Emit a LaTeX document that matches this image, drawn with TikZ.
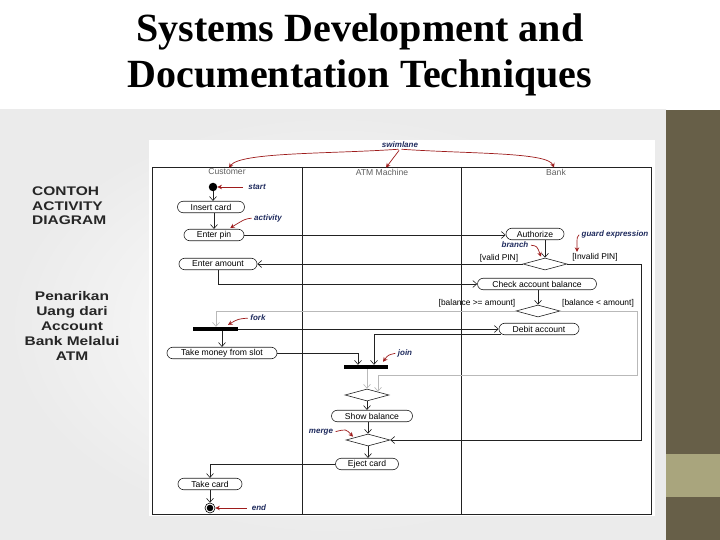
\documentclass[tikz,border=0pt]{standalone}
\usepackage{fontspec}
\setmainfont{Liberation Serif}
\setsansfont{Liberation Sans}
\newfontfamily\sideFont[FakeStretch=1.24]{Liberation Sans}
\usepackage{xcolor}
\usetikzlibrary{
  arrows.meta, shapes.geometric, shapes.misc, positioning, calc
}
\definecolor{C_LINE}{HTML}{222222}
\definecolor{C_RED} {HTML}{9E1C1C}
\definecolor{C_NOTE}{HTML}{1F2B5E}
\definecolor{C_BAR} {HTML}{675F48}
\definecolor{C_BAND}{HTML}{A9A57D}
\tikzset{
  %% -- action state (rounded box) --
  AD/act/.style={
    draw=C_LINE, line width=0.6bp, rounded rectangle, fill=white,
    minimum height=11.5bp, inner sep=1bp,
    font=\sffamily\fontsize{8.6bp}{10bp}\selectfont
  },
  %% -- fork / join bar --
  AD/bar/.style={fill=black, minimum height=4bp, inner sep=0pt},
  %% -- branch / merge diamond --
  AD/dec/.style={
    draw=C_LINE, line width=0.6bp, diamond, fill=white,
    minimum width=44bp, minimum height=12bp, inner sep=0pt
  },
  %% -- initial / final state --
  AD/init/.style={circle, fill=black, minimum size=8.5bp, inner sep=0pt},
  AD/final/.style={circle, draw=black, line width=0.6bp, fill=white,
    minimum size=10bp, inner sep=0pt},
  %% -- control flow --
  AD/flow/.style={-{Straight Barb[length=4bp,width=7bp]}, line width=0.6bp, C_LINE},
  AD/flowL/.style={AD/flow, gray!55},
  %% -- guard text --
  AD/guard/.style={font=\sffamily\fontsize{8.4bp}{10bp}\selectfont, inner sep=1pt},
  %% -- swimlane frame and header --
  AD/lane/.style={draw=C_LINE, line width=0.7bp},
  AD/head/.style={font=\sffamily\fontsize{8.6bp}{10bp}\selectfont,
    text=gray!75!black, inner sep=1pt},
  %% -- callouts (red arrows, blue italic words) --
  AD/note/.style={font=\sffamily\bfseries\itshape\fontsize{8bp}{9bp}\selectfont,
    text=C_NOTE, inner sep=1pt},
  AD/noteArr/.style={-{Stealth[length=4.5bp,width=4.5bp]}, C_RED,
    line width=0.7bp, shorten <=1.5bp},
}

\begin{document}
\begin{tikzpicture}[x=1bp, y=-1bp]

\useasboundingbox (0,0) rectangle (720,540);

%% ━━━━━━━━━━━━━━━━━━━━━━━━━━━━━━━━━━━━━━━━━━━━━━━━━━━━━━━━━━━━━━━━━━━━━
%%  SLIDE BACKGROUND
%% ━━━━━━━━━━━━━━━━━━━━━━━━━━━━━━━━━━━━━━━━━━━━━━━━━━━━━━━━━━━━━━━━━━━━━
\fill[white] (0,0) rectangle (720,110);
\shade[inner color=white, outer color=gray!16] (0,110) rectangle (666,540);
\fill[C_BAR]  (666,110) rectangle (720,540);
\fill[C_BAND] (666,454) rectangle (720,497);
\fill[white] (149,140) rectangle (655,516);

%% Title
\node[font=\rmfamily\bfseries\fontsize{40bp}{45bp}\selectfont, anchor=base]
  (title1) at (360,42) {Systems Development and};
\node[font=\rmfamily\bfseries\fontsize{40bp}{45bp}\selectfont, anchor=base]
  (title2) at (360,88) {Documentation Techniques};

%% Side captions
\node[font=\sideFont\bfseries\fontsize{12.5bp}{14.5bp}\selectfont,
      text=black!85, align=left, anchor=west, inner sep=0pt]
  (side1) at (32,206) {CONTOH\\ACTIVITY\\DIAGRAM};
\node[font=\sideFont\bfseries\fontsize{12.5bp}{15.2bp}\selectfont,
      text=black!85, align=center, inner sep=0pt]
  (side2) at (72,326) {Penarikan\\Uang dari\\Account\\Bank Melalui\\ATM};

%% ━━━━━━━━━━━━━━━━━━━━━━━━━━━━━━━━━━━━━━━━━━━━━━━━━━━━━━━━━━━━━━━━━━━━━
%%  SWIMLANES
%% ━━━━━━━━━━━━━━━━━━━━━━━━━━━━━━━━━━━━━━━━━━━━━━━━━━━━━━━━━━━━━━━━━━━━━
\pgfmathsetmacro{\xC}{227}  %% Customer
\pgfmathsetmacro{\xA}{382}  %% ATM Machine
\pgfmathsetmacro{\xB}{556}  %% Bank

\draw[AD/lane] (152,167) rectangle (651,514);
\draw[AD/lane] (302,167) -- (302,514);
\draw[AD/lane] (461,167) -- (461,514);

\node[AD/head] (laneC) at (\xC,172) {Customer};
\node[AD/head] (laneA) at (\xA,172) {ATM Machine};
\node[AD/head] (laneB) at (\xB,172) {Bank};

%% ━━━━━━━━━━━━━━━━━━━━━━━━━━━━━━━━━━━━━━━━━━━━━━━━━━━━━━━━━━━━━━━━━━━━━
%%  ACTIVITIES
%% ━━━━━━━━━━━━━━━━━━━━━━━━━━━━━━━━━━━━━━━━━━━━━━━━━━━━━━━━━━━━━━━━━━━━━
%% Customer
\node[AD/init] (start) at (213,187) {};
\node[AD/act, minimum width=69bp]  (insert) at (211,207) {Insert card};
\node[AD/act, minimum width=62bp]  (pin)    at (214,235) {Enter pin};
\node[AD/act, minimum width=80bp]  (amount) at (218,264) {Enter amount};
\node[AD/bar, minimum width=45bp]  (fork)   at (215,329) {};
\node[AD/act, minimum width=112bp] (money)  at (222,353) {Take money from slot};
\node[AD/act, minimum width=66bp]  (card)   at (210,484) {Take card};
\node[AD/final] (stop) at (210,508) {};
\fill (stop.center) circle (3.3bp);

%% ATM Machine
\node[AD/bar, minimum width=44bp]  (join)   at (366,367) {};
\node[AD/dec] (dJoin)  at (367,395) {};
\node[AD/act, minimum width=83bp]  (show)   at (372,416) {Show balance};
\node[AD/dec] (dMerge) at (368,440) {};
\node[AD/act, minimum width=65bp]  (eject)  at (367,464) {Eject card};

%% Bank
\node[AD/act, minimum width=60bp]  (auth)   at (535,234) {Authorize};
\node[AD/dec] (dPin) at (545,264) {};
\node[AD/act, minimum width=121bp] (check)  at (537,284) {Check account balance};
\node[AD/dec] (dBal) at (538,311) {};
\node[AD/act, minimum width=82bp]  (debit)  at (539,329) {Debit account};

%% Guards
\node[AD/guard] (gValid)   at (499,258) {[valid PIN]};
\node[AD/guard] (gInvalid) at (595,257) {[Invalid PIN]};
\node[AD/guard] (gGe)      at (477,303) {[balance >= amount]};
\node[AD/guard] (gLt)      at (598,303) {[balance < amount]};

%% ━━━━━━━━━━━━━━━━━━━━━━━━━━━━━━━━━━━━━━━━━━━━━━━━━━━━━━━━━━━━━━━━━━━━━
%%  CONTROL FLOWS
%% ━━━━━━━━━━━━━━━━━━━━━━━━━━━━━━━━━━━━━━━━━━━━━━━━━━━━━━━━━━━━━━━━━━━━━
\draw[AD/flow] (start) -- (start |- insert.north);
\draw[AD/flow] (insert.south -| pin) -- (pin.north);
\draw[AD/flow] (pin.east) -- (auth.west |- pin.east);
\draw[AD/flow] (auth.south -| dPin) -- (dPin.north);

%% valid / invalid PIN
\draw[AD/flow] (dPin.west) -- (amount.east);
\draw[AD/flow] (dPin.east) -- ++(74,0) |- (dMerge.east);

\draw[AD/flow] (amount.south) |- (check.west);
\draw[AD/flow] (check.south -| dBal) -- (dBal.north);

%% enough / not enough balance
\draw[AD/flowL] (dBal.west) -| ([xshift=1bp]fork.north);
\draw[AD/flowL] (dBal.east) -- ++(77,0) -- ++(0,64)
  -| ([xshift=11bp,yshift=-3bp]dJoin.north);

%% fork
\draw[AD/flow] (fork.east) -- (debit.west);
\draw[AD/flow] (fork.south -| money) -- (money.north);

%% join
\draw[AD/flow] (money.east) -| ([xshift=-8bp]join.north);
\draw[AD/flow] ([xshift=2bp,yshift=-5bp]debit.west) -| ([xshift=8bp]join.north);
\draw[AD/flowL] (join.south -| dJoin) -- (dJoin.north);

\draw[AD/flow] (dJoin.south) -- (dJoin.south |- show.north);
\draw[AD/flow] (show.south -| dMerge) -- (dMerge.north);
\draw[AD/flow] (dMerge.south) -- (dMerge.south |- eject.north);
\draw[AD/flow] (eject.west) -| (card.north);
\draw[AD/flow] (card.south) -- (stop.north);

%% ━━━━━━━━━━━━━━━━━━━━━━━━━━━━━━━━━━━━━━━━━━━━━━━━━━━━━━━━━━━━━━━━━━━━━
%%  CALLOUTS
%% ━━━━━━━━━━━━━━━━━━━━━━━━━━━━━━━━━━━━━━━━━━━━━━━━━━━━━━━━━━━━━━━━━━━━━
\node[AD/note] (nSwim)   at (400,145) {swimlane};
\node[AD/note] (nStart)  at (257,187) {start};
\node[AD/note] (nAct)    at (268,218) {activity};
\node[AD/note] (nFork)   at (258,318) {fork};
\node[AD/note] (nJoin)   at (405,353) {join};
\node[AD/note] (nMerge)  at (321,432) {merge};
\node[AD/note] (nEnd)    at (259,508) {end};
\node[AD/note] (nBranch) at (515,245) {branch};
\node[AD/note] (nGuard)  at (615,234) {guard expression};

\draw[AD/noteArr] (nSwim.south) .. controls (330,154) and (240,152)
  .. ([xshift=2bp]laneC.north);
\draw[AD/noteArr] (nSwim.south) -- ([xshift=4bp]laneA.north);
\draw[AD/noteArr] (nSwim.south) .. controls (470,154) and (548,152)
  .. ([xshift=-2bp]laneB.north);

\draw[AD/noteArr, shorten <=4bp] (nStart.west) -- (start.east);
\draw[AD/noteArr] (nAct.west) .. controls (245,219)
  .. ([xshift=-8bp,yshift=1bp]pin.north east);
\draw[AD/noteArr] (nFork.west) .. controls (238,319)
  .. ([xshift=13bp,yshift=2bp]fork.north);
\draw[AD/noteArr] (nJoin.west) .. controls (388,355)
  .. ([xshift=17bp,yshift=3bp]join.north);
\draw[AD/noteArr] (nMerge.east) .. controls (346,429)
  .. ([xshift=-15bp,yshift=-3bp]dMerge.north);
\draw[AD/noteArr, shorten <=4bp] (nEnd.west) -- (stop.east);
\draw[AD/noteArr] (nBranch.east) .. controls (537,246)
  .. ([xshift=-4bp,yshift=1bp]dPin.north);
\draw[AD/noteArr] (nGuard.west) .. controls (577,236)
  .. ([xshift=-18bp]gInvalid.north);

\end{tikzpicture}
\end{document}
